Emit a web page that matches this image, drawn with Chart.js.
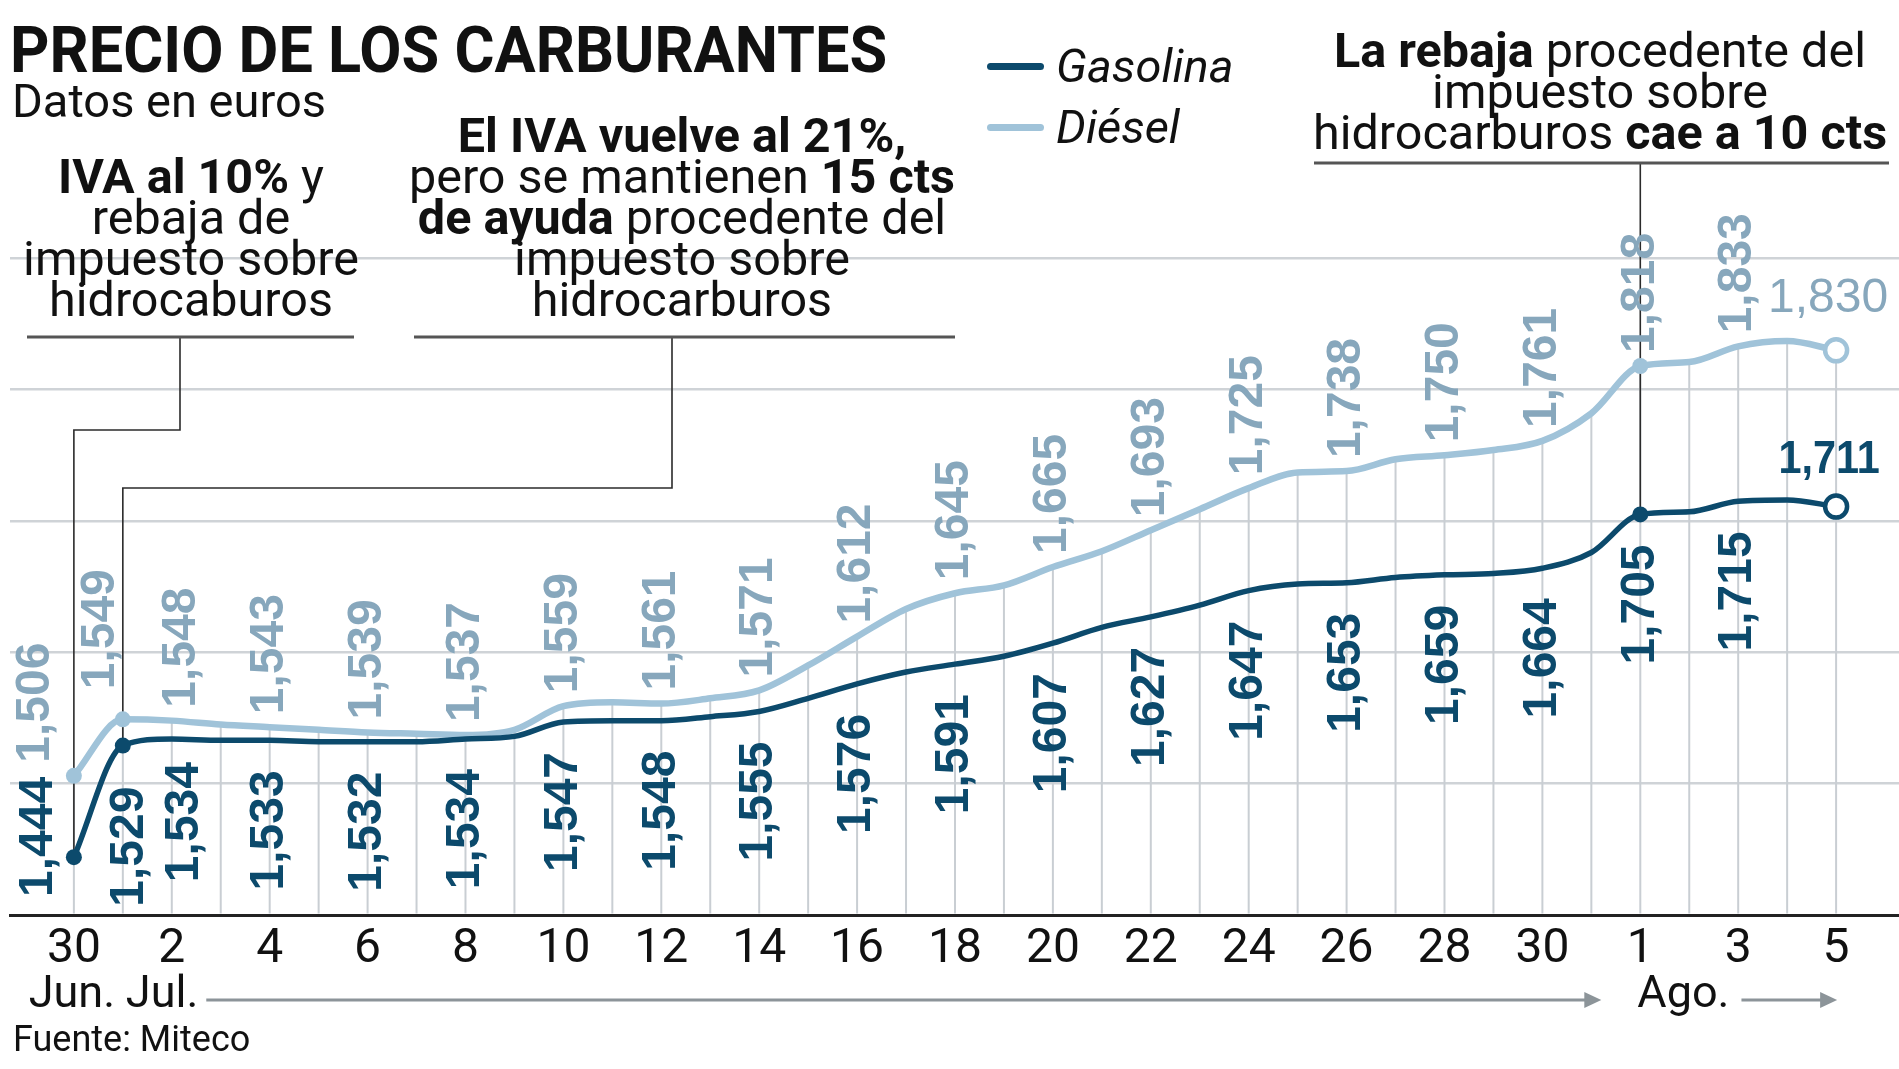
<!DOCTYPE html>
<html lang="es">
<head>
<meta charset="utf-8">
<title>Precio de los carburantes</title>
<script src="https://cdn.jsdelivr.net/npm/chart.js@4.4.1/dist/chart.umd.min.js"></script>
<style>
    html, body { margin: 0; padding: 0; background: #fff; }
    #lienzo { position: relative; width: 1899px; height: 1069px; overflow: hidden; font-family: Roboto, "Noto Sans", sans-serif; color: #111; }
    #grafico { position: absolute; left: 0; top: 0; }
    .txt { position: absolute; white-space: nowrap; }
    .titulo { left: 10px; top: 19px; font-size: 64px; line-height: 64px; font-weight: 700; transform: scaleX(0.957); transform-origin: 0 0; }
    .subtitulo { left: 12px; top: 77px; font-size: 47px; line-height: 47px; }
    .leyenda { left: 1056px; font-size: 47px; line-height: 47px; font-style: italic; }
    .muestra { position: absolute; left: 987px; width: 57px; height: 7px; border-radius: 4px; }
    .nota { font-size: 48.5px; line-height: 41px; text-align: center; transform: translateX(-50%); }
    .nota b { font-weight: 700; }
    .fuente { left: 13px; top: 1021px; font-size: 36px; line-height: 36px; }
</style>
</head>
<body>
<div id="lienzo">
    <canvas id="grafico" width="1899" height="1069"></canvas>
    <div class="txt titulo">PRECIO DE LOS CARBURANTES</div>
    <div class="txt subtitulo">Datos en euros</div>
    <div class="muestra" style="top:63px;background:#0c4a6c"></div>
    <div class="txt leyenda" style="top:42px">Gasolina</div>
    <div class="muestra" style="top:124px;background:#a0c3d9"></div>
    <div class="txt leyenda" style="top:103px">Diésel</div>
    <div class="txt nota" style="left:191px;top:156px"><b>IVA al 10%</b> y<br>rebaja de<br>impuesto sobre<br>hidrocaburos</div>
    <div class="txt nota" style="left:682px;top:115px"><b>El IVA vuelve al 21%,</b><br>pero se mantienen <b>15 cts</b><br><b>de ayuda</b> procedente del<br>impuesto sobre<br>hidrocarburos</div>
    <div class="txt nota" style="left:1600px;top:30px"><b>La rebaja</b> procedente del<br>impuesto sobre<br>hidrocarburos <b>cae a 10 cts</b></div>
    <div class="txt fuente">Fuente: Miteco</div>
</div>
<script>
// dias del 30 de junio al 5 de agosto
const dias = [30, 1, 2, 3, 4, 5, 6, 7, 8, 9, 10, 11, 12, 13, 14, 15, 16, 17, 18, 19, 20,
    21, 22, 23, 24, 25, 26, 27, 28, 29, 30, 31, 1, 2, 3, 4, 5];

const gasolina = [1.444, 1.529, 1.534, 1.533, 1.533, 1.532, 1.532, 1.532, 1.534, 1.536,
    1.547, 1.548, 1.548, 1.551, 1.555, 1.565, 1.576, 1.585, 1.591, 1.597,
    1.607, 1.619, 1.627, 1.636, 1.647, 1.652, 1.653, 1.657, 1.659, 1.660,
    1.664, 1.676, 1.705, 1.707, 1.715, 1.716, 1.711];

const diesel = [1.506, 1.549, 1.548, 1.545, 1.543, 1.541, 1.539, 1.538, 1.537, 1.541,
    1.559, 1.562, 1.561, 1.565, 1.571, 1.590, 1.612, 1.633, 1.645, 1.651,
    1.665, 1.677, 1.693, 1.709, 1.725, 1.737, 1.738, 1.747, 1.750, 1.754,
    1.761, 1.782, 1.818, 1.821, 1.833, 1.837, 1.830];

// posiciones con etiqueta en el eje y con cifra en la linea
const ticksX = [0, 2, 4, 6, 8, 10, 12, 14, 16, 18, 20, 22, 24, 26, 28, 30, 32, 34, 36];
const conCifra = [0, 1, 2, 4, 6, 8, 10, 12, 14, 16, 18, 20, 22, 24, 26, 28, 30, 32, 34, 36];
const conPunto = [0, 1, 32];

const AZUL = "#0c4a6c";
const CELESTE = "#a0c3d9";
const CELESTE_TXT = "#87a7bc";
const ultimo = dias.length - 1;

const fmt = (v) => v.toFixed(3).replace(".", ",");

const ajustes = {
    gas: { 0: { dx: -35 }, 1: { dx: 7, gap: 41 }, 2: { dx: 13, gap: 23 } },
    die: { 0: { dx: -38 }, 1: { dx: -22, gap: 30 }, 2: { dx: 10 } },
};

const guias = {
    id: "guias",
    beforeDatasetsDraw(chart) {
        const { ctx, chartArea } = chart;
        const gas = chart.getDatasetMeta(0).data;
        const die = chart.getDatasetMeta(1).data;
        ctx.save();
        ctx.strokeStyle = "#c9ced3";
        ctx.lineWidth = 2;
        die.forEach((p) => {
            ctx.beginPath();
            ctx.moveTo(p.x, p.y);
            ctx.lineTo(p.x, chartArea.bottom - 1.5);
            ctx.stroke();
        });

        const trazo = (pts) => {
            ctx.beginPath();
            ctx.moveTo(pts[0][0], pts[0][1]);
            pts.slice(1).forEach((q) => ctx.lineTo(q[0], q[1]));
            ctx.stroke();
        };
        ctx.strokeStyle = "#2b2b2b";
        ctx.lineWidth = 1.6;
        trazo([[180, 337], [180, 430], [gas[0].x, 430], [gas[0].x, gas[0].y]]);
        trazo([[672, 337], [672, 488], [gas[1].x, 488], [gas[1].x, gas[1].y]]);
        trazo([[gas[32].x, 163], [gas[32].x, gas[32].y]]);

        ctx.strokeStyle = "#555";
        ctx.lineWidth = 3;
        [[27, 354, 337], [414, 955, 337], [1314, 1889, 163]].forEach((s) => {
            trazo([[s[0], s[2]], [s[1], s[2]]]);
        });
        ctx.restore();
    },
};

const cifras = {
    id: "cifras",
    afterDatasetsDraw(chart) {
        const { ctx, chartArea } = chart;
        const gas = chart.getDatasetMeta(0).data;
        const die = chart.getDatasetMeta(1).data;
        ctx.save();
        ctx.font = 'bold 48px "Liberation Sans", Arial, sans-serif';
        ctx.textBaseline = "middle";

        conCifra.forEach((i) => {
            if (i === ultimo) return;
            // gasolina, por debajo
            let a = ajustes.gas[i] || {};
            let p = gas[i];
            ctx.save();
            ctx.fillStyle = AZUL;
            if (i === 0) {
                ctx.translate(p.x + a.dx, chartArea.bottom - 18);
                ctx.textAlign = "left";
            } else {
                ctx.translate(p.x + (a.dx || 0), p.y + (a.gap ?? 30));
                ctx.textAlign = "right";
            }
            ctx.rotate(-Math.PI / 2);
            ctx.fillText(fmt(gasolina[i]), 0, 0);
            ctx.restore();

            // diesel, por encima
            a = ajustes.die[i] || {};
            p = die[i];
            ctx.save();
            ctx.fillStyle = CELESTE_TXT;
            ctx.translate(p.x + (a.dx || 0), p.y - (a.gap ?? 13));
            ctx.textAlign = "left";
            ctx.rotate(-Math.PI / 2);
            ctx.fillText(fmt(diesel[i]), 0, 0);
            ctx.restore();
        });

        // ultimo dato en horizontal
        ctx.textAlign = "center";
        ctx.textBaseline = "alphabetic";
        let p = gas[ultimo];
        ctx.save();
        ctx.fillStyle = AZUL;
        ctx.font = 'bold 46px "Liberation Sans", Arial, sans-serif';
        ctx.translate(p.x - 7, p.y - 34);
        ctx.scale(0.9, 1);
        ctx.fillText(fmt(gasolina[ultimo]), 0, 0);
        ctx.restore();

        p = die[ultimo];
        ctx.fillStyle = CELESTE_TXT;
        ctx.font = '48px "Liberation Sans", Arial, sans-serif';
        ctx.fillText(fmt(diesel[ultimo]), p.x - 8, p.y - 38);
        ctx.restore();
    },
};

const meses = {
    id: "meses",
    afterDraw(chart) {
        const { ctx } = chart;
        const x = chart.scales.x;
        const y0 = 1007;
        ctx.save();
        ctx.font = "45px Roboto, sans-serif";
        ctx.fillStyle = "#111";
        ctx.textBaseline = "alphabetic";
        ctx.textAlign = "center";
        ctx.fillText("Jun.", x.getPixelForValue(0) - 2, y0);
        ctx.textAlign = "left";
        const xJul = x.getPixelForValue(1) + 3;
        ctx.fillText("Jul.", xJul, y0);
        const xAgo = x.getPixelForValue(32) - 3;
        ctx.fillText("Ago.", xAgo, y0);

        const flecha = (x1, x2, yy) => {
            ctx.strokeStyle = "#8c9499";
            ctx.fillStyle = "#8c9499";
            ctx.lineWidth = 3;
            ctx.beginPath();
            ctx.moveTo(x1, yy);
            ctx.lineTo(x2 - 10, yy);
            ctx.stroke();
            ctx.beginPath();
            ctx.moveTo(x2, yy);
            ctx.lineTo(x2 - 17, yy - 8);
            ctx.lineTo(x2 - 17, yy + 8);
            ctx.closePath();
            ctx.fill();
        };
        flecha(xJul + ctx.measureText("Jul.").width + 8, x.getPixelForValue(32) - 39, 1000);
        flecha(xAgo + ctx.measureText("Ago.").width + 12, x.getPixelForValue(ultimo) + 1, 1000);
        ctx.restore();
    },
};

const serie = (valores) => valores.map((v, i) => ({ x: i, y: v }));

const radio = (c) => (conPunto.includes(c.dataIndex) ? 8 : c.dataIndex === ultimo ? 11 : 0);
const relleno = (color) => (c) => (c.dataIndex === ultimo ? "#fff" : color);
const bordePunto = (c) => (c.dataIndex === ultimo ? 4.5 : 0);

new Chart(document.getElementById("grafico"), {
    type: "line",
    data: {
        datasets: [
            {
                label: "Gasolina",
                data: serie(gasolina),
                borderColor: AZUL,
                borderWidth: 5.5,
                cubicInterpolationMode: "monotone",
                pointRadius: radio,
                pointBackgroundColor: relleno(AZUL),
                pointBorderColor: AZUL,
                pointBorderWidth: bordePunto,
                borderCapStyle: "round",
                borderJoinStyle: "round",
            },
            {
                label: "Diésel",
                data: serie(diesel),
                borderColor: CELESTE,
                borderWidth: 6.5,
                cubicInterpolationMode: "monotone",
                pointRadius: radio,
                pointBackgroundColor: relleno(CELESTE),
                pointBorderColor: CELESTE,
                pointBorderWidth: bordePunto,
                borderCapStyle: "round",
                borderJoinStyle: "round",
            },
        ],
    },
    options: {
        responsive: false,
        devicePixelRatio: 1,
        animation: false,
        events: [],
        layout: { autoPadding: false, padding: { left: 10, right: 0, top: 127, bottom: 94 } },
        plugins: {
            legend: { display: false },
            tooltip: { enabled: false },
        },
        scales: {
            x: {
                type: "linear",
                min: -1.305,
                max: 37.285,
                afterBuildTicks: (s) => {
                    s.ticks = ticksX.map((v) => ({ value: v }));
                },
                afterFit: (s) => {
                    s.height = 60;
                    s.paddingLeft = 0;
                    s.paddingRight = 0;
                },
                ticks: {
                    autoSkip: false,
                    maxRotation: 0,
                    padding: 6,
                    color: "#111",
                    font: { family: "Roboto", size: 48 },
                    callback: (v) => String(dias[v]),
                },
                grid: { display: false, drawTicks: false },
                border: { display: true, color: "#222", width: 3 },
            },
            y: {
                min: 1.4,
                max: 2.0,
                afterFit: (s) => {
                    s.width = 0;
                    s.paddingTop = 0;
                    s.paddingBottom = 0;
                },
                ticks: { display: false, stepSize: 0.1 },
                grid: {
                    drawTicks: false,
                    lineWidth: 2.5,
                    color: (c) => (c.tick.value < 1.45 || c.tick.value > 1.95 ? "rgba(0,0,0,0)" : "#cfd3d7"),
                },
                border: { display: false },
            },
        },
    },
    plugins: [guias, cifras, meses],
});
</script>
</body>
</html>
